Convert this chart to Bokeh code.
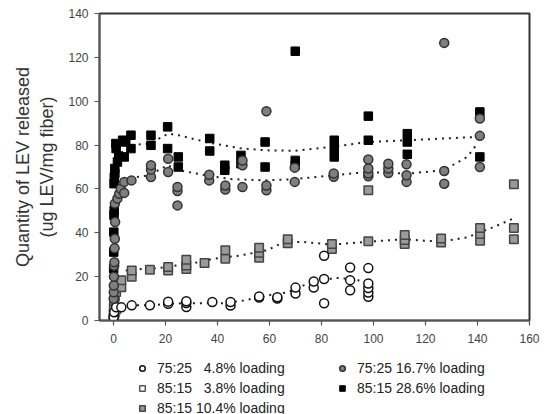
from bokeh.plotting import figure
from bokeh.models import Range1d, Legend, LegendItem, FixedTicker
from bokeh.layouts import column
from bokeh.embed import file_html
from bokeh.resources import INLINE

# ---------------- data ----------------
# 75:25 4.8% loading (open circles)
t_a = [0.04, 0.25, 1, 3, 7, 14, 21, 21, 28, 28, 28, 38, 45, 45, 56, 56, 63, 63,
       70, 70, 77, 77, 81, 81, 81, 91, 91, 91, 98, 98, 98, 98, 98]
y_a = [1.5, 3.8, 6, 6, 6.9, 6.9, 7.6, 8.6, 6.1, 8, 8.8, 8.4, 6.8, 8.4, 10.5, 11, 10, 10.6,
       12.3, 15, 15, 17.8, 7.9, 18.9, 29.5, 13.8, 18.4, 24.2, 10.8, 12.8, 14.8, 16.9, 23.9]

# 85:15 3.8% loading (open squares)
t_b = [0.04, 0.1, 0.25, 0.5, 1]
y_b = [0.8, 1.5, 2.5, 3.5, 5]

# 85:15 10.4% loading (grey squares)
t_c = [0.04, 0.1, 0.25, 0.5, 1, 3, 3, 7, 7, 14, 21, 21, 28, 28, 28, 35, 43, 43,
       56, 56, 56, 67, 67, 84, 84, 98, 98, 112, 112, 112, 126, 126, 141, 141, 141,
       154, 154, 154]
y_c = [3, 6, 9, 11, 13, 15.2, 18.3, 20, 22.8, 23.1, 22.8, 24.4, 23.5, 25.1, 27.7, 26.2, 28.2, 32,
       28.6, 30.9, 33.2, 35.2, 37.1, 32.6, 34.9, 36.1, 59.4, 34.9, 36.7, 39, 35.6, 37.4, 36.4, 39.4, 42.2,
       37.1, 42.2, 62.1]

# 75:25 16.7% loading (grey circles)
t_d = [0.04, 0.08, 0.1, 0.17, 0.25, 0.33, 0.4, 0.5, 0.6, 0.5, 1.5, 2.2, 2.8, 4.1, 4.1, 6.9,
       14.4, 14.4, 14.4, 21, 21, 24.6, 24.6, 24.6, 36.8, 36.8, 43, 43, 49.6, 49.6, 49.6,
       58.8, 58.8, 58.8, 69.7, 69.7, 84.7, 84.7, 98, 98, 98, 98, 105.7, 105.7, 105.7,
       112.7, 112.7, 112.7, 127.2, 127.2, 127.2, 140.9, 140.9, 140.9]
y_d = [9.9, 12.9, 16, 20, 25, 26.6, 33, 37.3, 44.9, 53.3, 55.6, 57.8, 60.1, 58.2, 63.2, 63.9,
       65.4, 68.8, 70.8, 67.7, 73.8, 52.5, 59, 60.9, 63.9, 66.5, 59.7, 61.6, 60.9, 70.8, 73,
       59.4, 61.6, 95.4, 63.2, 69.7, 65.5, 67, 65.8, 67, 69.3, 73.4, 67.3, 69.3, 71.5,
       63.2, 66.2, 71.2, 62.4, 68.2, 126.6, 70, 84.2, 92.1]

# 85:15 28.6% loading (black squares)
t_e = [0.04, 0.08, 0.1, 0.17, 0.25, 0.2, 0.3, 0.5, 0.5, 0.9, 1, 1.5, 2, 3.5, 4.1, 4.7, 6.7, 6.7,
       14.4, 14.4, 20.8, 20.8, 24.9, 24.9, 37, 37, 42.8, 42.8, 49, 49, 58.3, 58.3,
       69.9, 69.9, 69.9, 84.9, 84.9, 84.9, 98, 98, 113, 113, 113, 140.9, 140.9]
y_e = [23.6, 31.2, 40.3, 48, 50.2, 62.4, 65.4, 67, 69.3, 80.7, 78.4, 72.3, 75, 82.2, 74.6, 81.4, 78.4, 84.5,
       79.9, 84.5, 78.4, 88.3, 70, 74.6, 77.3, 83, 68.5, 70.8, 71.5, 75.3, 70, 81.4,
       70.8, 73, 122.8, 74.6, 78.4, 82.2, 82.2, 93.2, 75.8, 81.4, 85.2, 74.6, 95.1]

# dotted trend curves
tr_a_x = [1, 7, 14, 21, 28, 35, 42, 50, 59, 67, 73, 78.5, 85, 91, 98]
tr_a_y = [6, 6.9, 6.9, 7.6, 7.9, 7.9, 7.9, 9.1, 11.4, 12.9, 16, 17.5, 19.5, 19, 17.5]
tr_c_x = [4.7, 10, 17, 24, 31, 38.7, 49, 59, 65.6, 73, 84, 98, 112, 119.5, 126, 136, 141, 149, 153.5]
tr_c_y = [22.8, 23.4, 23.9, 25.1, 26.2, 28.2, 29.7, 32, 35.8, 35.8, 34.6, 35.9, 37.1, 36.4, 36, 37.9, 40.2, 44, 46.4]
tr_d_x = [9, 13.7, 20.8, 25.3, 35.5, 45, 58.6, 70, 84, 97.7, 113, 127, 136, 140]
tr_d_y = [65.4, 66.2, 70.8, 68.5, 66.2, 64.5, 63.9, 64.5, 66.2, 67.7, 67, 68.5, 74.6, 80.7]
tr_e_x = [7, 14, 21, 25, 37, 49, 58.6, 70, 83.5, 97.7, 113, 127, 140]
tr_e_y = [80, 80.7, 85.2, 84.5, 81, 78.5, 77.6, 77.4, 79.1, 81.4, 82.2, 83, 83.7]

labels = ["75:25\u2007 4.8% loading", "85:15\u2007 3.8% loading", "85:15 10.4% loading",
          "75:25 16.7% loading", "85:15 28.6% loading"]
x_ticks = [0, 20, 40, 60, 80, 100, 120, 140, 160]
y_ticks = [0, 20, 40, 60, 80, 100, 120, 140]

FONT = "Liberation Sans"

# marker styles per series
st_a = dict(marker="circle", size=9, fill_color="white", line_color="#111111", line_width=1.5)
st_b = dict(marker="square", size=8.5, fill_color="white", line_color="#555555", line_width=1.5)
st_c = dict(marker="square", size=8.5, fill_color="#9a9a9a", line_color="#444444", line_width=1.5)
st_d = dict(marker="circle", size=9, fill_color="#7f7f7f", line_color="#333333", line_width=1.5)
st_e = dict(marker="square", size=8.5, fill_color="black", line_color="black", line_width=1)

p = figure(frame_width=430, frame_height=307, output_backend="svg", toolbar_location=None,
           x_range=Range1d(-5.4, 160), y_range=Range1d(0, 140),
           min_border_left=99, min_border_top=13, min_border_right=11, min_border_bottom=27)
p.xgrid.visible = False
p.ygrid.visible = False
p.outline_line_color = "#333333"
p.outline_line_width = 2
p.outline_line_alpha = 1

for ax in (p.xaxis[0], p.yaxis[0]):
    ax.axis_line_color = "#555555"
    ax.axis_line_width = 1.5
    ax.major_tick_line_color = "#555555"
    ax.major_tick_line_width = 1.2
    ax.major_tick_in = 0
    ax.major_tick_out = 5
    ax.minor_tick_line_color = None
    ax.major_label_text_font = FONT
    ax.major_label_text_font_size = "12px"
    ax.major_label_text_color = "#444444"

p.xaxis[0].ticker = FixedTicker(ticks=x_ticks)
p.yaxis[0].ticker = FixedTicker(ticks=y_ticks)
p.xaxis[0].major_label_standoff = 8
p.yaxis[0].major_label_standoff = 6
p.yaxis[0].axis_label = "Quantity of LEV released\n(ug LEV/mg fiber)"
p.yaxis[0].axis_label_text_font = FONT
p.yaxis[0].axis_label_text_font_size = "18px"
p.yaxis[0].axis_label_text_font_style = "normal"
p.yaxis[0].axis_label_text_color = "#333333"
p.yaxis[0].axis_label_standoff = 8

dot = dict(line_color="#222222", line_width=2, line_dash="2 5")
p.line(tr_a_x, tr_a_y, **dot)
p.line(tr_c_x, tr_c_y, **dot)
p.line(tr_d_x, tr_d_y, **dot)
p.line(tr_e_x, tr_e_y, **dot)

p.scatter(t_b, y_b, **st_b)
p.scatter(t_c, y_c, **st_c)
p.scatter(t_a, y_a, **st_a)
p.scatter(t_e, y_e, **st_e)
p.scatter(t_d, y_d, **st_d)

# legend strip below the chart (its keys reuse the first sample of each series,
# kept outside this strip's visible ranges so only the legend shows)
lg = figure(frame_width=430, frame_height=67, output_backend="svg", toolbar_location=None,
            x_range=Range1d(-5.4, 160), y_range=Range1d(500, 600),
            x_axis_type=None, y_axis_type=None,
            min_border_left=99, min_border_top=0, min_border_right=11, min_border_bottom=0)
lg.grid.visible = False
lg.outline_line_color = None
k_a = lg.scatter(t_a[:1], y_a[:1], **st_a)
k_b = lg.scatter(t_b[:1], y_b[:1], **st_b)
k_c = lg.scatter(t_c[:1], y_c[:1], **st_c)
k_d = lg.scatter(t_d[:1], y_d[:1], **st_d)
k_e = lg.scatter(t_e[:1], y_e[:1], **st_e)

items = [LegendItem(label=labels[0], renderers=[k_a]),
         LegendItem(label=labels[1], renderers=[k_b]),
         LegendItem(label=labels[2], renderers=[k_c]),
         LegendItem(label=labels[3], renderers=[k_d]),
         LegendItem(label=labels[4], renderers=[k_e])]
legend = Legend(items=items, orientation="vertical", nrows=3, location=(36, -2),
                margin=0, padding=0, spacing=4, glyph_width=14, glyph_height=16,
                label_height=16, label_width=174, label_standoff=8,
                label_text_font=FONT, label_text_font_size="14px", label_text_color="#222222",
                border_line_color=None, background_fill_alpha=0)
lg.add_layout(legend)

open("out.html", "w").write(file_html(column(p, lg, spacing=0), INLINE))
